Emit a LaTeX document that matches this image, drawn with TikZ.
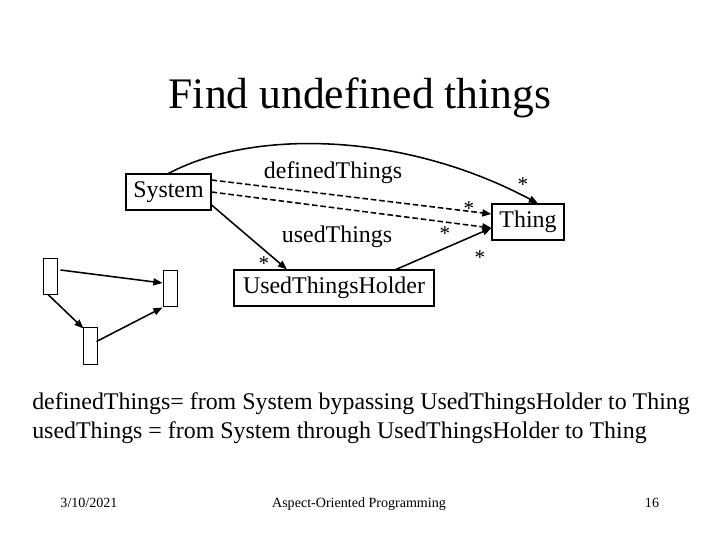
\documentclass[tikz,border=0pt]{standalone}
\usepackage{fontspec}
\setmainfont{Liberation Serif}
\usepackage{tikz}
\usetikzlibrary{arrows.meta,calc}

\begin{document}
\begin{tikzpicture}[x=0.025cm, y=-0.025cm,
    classbox/.style={rectangle, draw=black, line width=0.8pt, fill=white, inner sep=0pt, minimum height=0.9cm, font=\fontsize{17}{20}\selectfont},
    minibox/.style={rectangle, draw=black, line width=0.7pt, inner sep=0pt, minimum width=0.35cm},
    lbl/.style={inner sep=0pt, font=\fontsize{17}{20}\selectfont},
    star/.style={inner sep=0pt, font=\fontsize{15}{17}\selectfont},
    foot/.style={inner sep=0pt, anchor=base, font=\fontsize{10}{12}\selectfont},
    link/.style={->, >={Triangle[length=6.5pt,width=5pt]}, line width=1.1pt}]
        \useasboundingbox (0,0) rectangle (720,540);
        \node[inner sep=0pt, font=\fontsize{31}{37}\selectfont] (title) at (360,98) {Find undefined things};
        \node[classbox, minimum width=2.125cm] (system) at (168.5,192) {System};
        \node[classbox, minimum width=1.8cm] (thing) at (528,222) {Thing};
        \node[classbox, minimum width=5cm] (holder) at (334,288) {UsedThingsHolder};
        \node[lbl] (defd) at (333,173) {definedThings};
        \node[lbl] (used) at (337,237) {usedThings};
        \node[star] (s1) at (523,185) {*};
        \node[star] (s2) at (469,209) {*};
        \node[star] (s3) at (445,234) {*};
        \node[star] (s4) at (480,258) {*};
        \node[star] (s5) at (264,264) {*};
        \draw[link] (system.north) .. controls (250,130) and (400,130) .. ($(thing.north)+(10,0)$);
        \draw[link, dash pattern=on 4pt off 2pt] ($(system.east)+(0,-12)$) -- ($(thing.west)+(0,-8)$);
        \draw[link, dash pattern=on 4pt off 2pt] (system.east) -- ($(thing.west)+(0,6)$);
        \draw[link] ($(system.east)+(0,13)$) -- ($(holder.north)+(-47,0)$);
        \draw[link] ($(holder.north)+(62,0)$) -- ($(thing.west)+(0,6)$);
        % small object graph
        \node[minibox, minimum height=0.9cm] (oa) at (50,276) {};
        \node[minibox, minimum height=0.9cm] (ob) at (170,288) {};
        \node[minibox, minimum height=0.925cm] (oc) at (90,345.5) {};
        \draw[link] ($(oa.east)+(3,-6)$) -- ($(ob.west)+(0,-5)$);
        \draw[link] ($(oa.south)+(-2,0)$) -- ($(oc.north west)+(1,2)$);
        \draw[link] ($(oc.east)+(-1,-4)$) -- ($(ob.south west)+(0,1)$);
        % explanation
        \node[lbl, anchor=west] (line1) at (32,404) {definedThings= from System bypassing UsedThingsHolder to Thing};
        \node[lbl, anchor=west] (line2) at (32,433) {usedThings = from System through UsedThingsHolder to Thing};
        % footer
        \node[foot] (date) at (89,507) {3/10/2021};
        \node[foot] (course) at (359,507) {Aspect-Oriented Programming};
        \node[foot] (page) at (652,507) {16};
    \end{tikzpicture}
\end{document}
